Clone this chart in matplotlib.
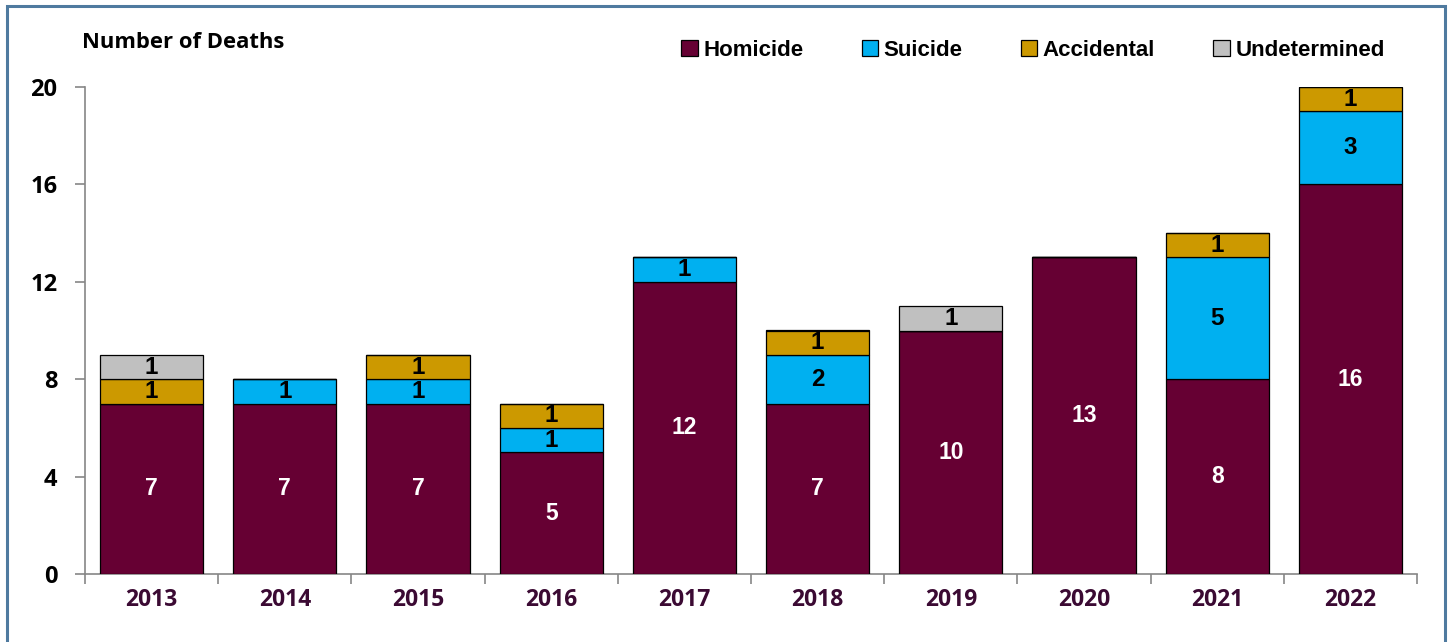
import matplotlib
matplotlib.use("Agg")
import matplotlib.pyplot as plt
from matplotlib.patches import Rectangle
import numpy as np

years = ["2013", "2014", "2015", "2016", "2017", "2018", "2019", "2020", "2021", "2022"]
homicide = [7, 7, 7, 5, 12, 7, 10, 13, 8, 16]
suicide = [0, 1, 1, 1, 1, 2, 0, 0, 5, 3]
accidental = [1, 0, 1, 1, 0, 1, 0, 0, 1, 1]
undetermined = [1, 0, 0, 0, 0, 0, 1, 0, 0, 0]
series_names = ["Homicide", "Suicide", "Accidental", "Undetermined"]
colors = ["#660033", "#00B0F0", "#CC9900", "#C0C0C0"]
label_colors = ["white", "black", "black", "black"]
yticks = [0, 4, 8, 12, 16, 20]

AXFONT = "Open Sans"

fig = plt.figure(figsize=(14.48, 6.42), dpi=100)
ax = fig.add_axes([85/1448, 1-574/642, (1417-85)/1448, (574-87)/642])

x = np.arange(len(years))
bottom = np.zeros(len(years))
handles = []
for vals, name, col, lc in zip([homicide, suicide, accidental, undetermined], series_names, colors, label_colors):
    vals = np.array(vals, dtype=float)
    bars = ax.bar(x, vals, bottom=bottom, width=0.775, color=col, edgecolor="black", linewidth=0.9, label=name, zorder=3)
    handles.append(bars)
    for xi, v, b in zip(x, vals, bottom):
        if v > 0:
            fs = 16.5 if lc == "white" else 17.5
            ax.text(xi, b + v/2, f"{int(v)}", ha="center", va="center", color=lc,
                    fontsize=fs, fontweight="bold", family="Liberation Sans", zorder=4)
    bottom += vals

ax.set_xlim(-0.5, len(years) - 0.5)
ax.set_ylim(0, 20)
ax.set_yticks(yticks)
ax.set_yticklabels([str(t) for t in yticks], fontsize=17, fontweight="bold", family=AXFONT)
ax.set_xticks(x)
ax.set_xticklabels(years, fontsize=16.5, fontweight="bold", family=AXFONT, color="#3B0A33")
ax.set_xticks(np.arange(-0.5, len(years)), minor=True)
ax.tick_params(axis="x", which="major", length=0, pad=10)
ax.tick_params(axis="x", which="minor", length=7, color="#868686", width=1.2)
ax.tick_params(axis="y", length=7, color="#868686", width=1.2, pad=13)
for s in ["top", "right"]:
    ax.spines[s].set_visible(False)
for s in ["left", "bottom"]:
    ax.spines[s].set_color("#868686")
    ax.spines[s].set_linewidth(1.2)

fig.text(82/1448, 1-42/642, "Number of Deaths", fontsize=15.8, fontweight="bold", family=AXFONT, va="center", ha="left")

leg = fig.legend(handles=handles, labels=series_names, loc="center", bbox_to_anchor=(1033/1448, 1-50/642),
                 ncol=4, frameon=False, handlelength=0.75, handleheight=0.75,
                 columnspacing=2.6, handletextpad=0.25,
                 prop={"family": "Liberation Sans", "weight": "bold", "size": 16})

fig.patches.append(Rectangle((7/1448, -0.05), (1445-7)/1448, 1.05 - 6/642, transform=fig.transFigure,
                             fill=False, edgecolor="#4F7A9F", linewidth=2.2))

fig.savefig("out.png", dpi=100)
